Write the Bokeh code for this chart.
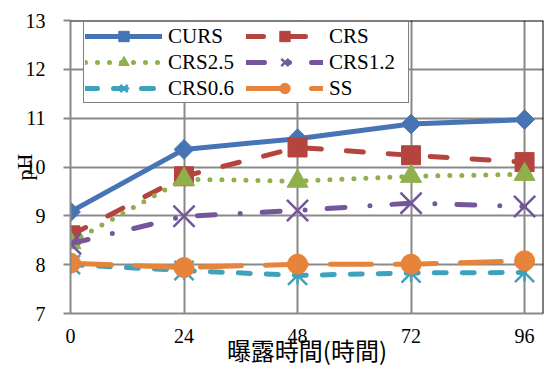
import math

from bokeh.embed import file_html
from bokeh.models import FixedTicker, Legend, LegendItem, Span
from bokeh.plotting import figure
from bokeh.resources import INLINE

# exposure time (hours) and measured pH for each specimen
hours = [0, 24, 48, 72, 96]
ph_curs = [9.08, 10.36, 10.58, 10.88, 10.97]
ph_crs = [8.60, 9.81, 10.40, 10.24, 10.10]
ph_crs25 = [8.45, 9.75, 9.71, 9.81, 9.85]
ph_crs12 = [8.43, 8.99, 9.11, 9.26, 9.19]
ph_crs06 = [8.00, 7.88, 7.78, 7.83, 7.84]
ph_ss = [8.03, 7.94, 8.01, 8.01, 8.08]

series_names = ["CURS", "CRS", "CRS2.5", "CRS1.2", "CRS0.6", "SS"]
x_ticks = [0, 24, 48, 72, 96]
y_ticks = [7, 8, 9, 10, 11, 12, 13]

x_label = "曝露時間(時間)"
y_label = "pH"

SERIF = "Liberation Serif"
GRID = "#898989"

p = figure(
    width=544, height=369,
    x_range=(0, 100), y_range=(7, 13),
    min_border_left=70, min_border_right=1,
    min_border_top=20, min_border_bottom=56,
    toolbar_location=None, output_backend="svg",
)
p.background_fill_color = "white"
p.border_fill_color = "white"
p.outline_line_color = None

# axes
for ax in (p.xaxis[0], p.yaxis[0]):
    ax.axis_line_color = GRID
    ax.axis_line_width = 2
    ax.major_tick_line_color = GRID
    ax.major_tick_line_width = 2
    ax.major_tick_in = 0
    ax.minor_tick_line_color = None
    ax.major_label_text_font = SERIF
    ax.major_label_text_font_size = "20px"
    ax.major_label_text_color = "black"
    ax.axis_label_text_color = "black"
    ax.axis_label_text_font_style = "normal"

p.xaxis.ticker = FixedTicker(ticks=x_ticks)
p.xaxis.major_tick_out = 0
p.xaxis.major_label_standoff = 15
p.xaxis.axis_label = x_label
p.xaxis.axis_label_text_font = "Noto Sans CJK JP"
p.xaxis.axis_label_text_font_size = "24px"
p.xaxis.axis_label_standoff = -14

p.yaxis.ticker = FixedTicker(ticks=y_ticks)
p.yaxis.major_tick_out = 7
p.yaxis.major_label_standoff = 18
p.yaxis.axis_label = y_label
p.yaxis.axis_label_text_font = SERIF
p.yaxis.axis_label_text_font_size = "22px"
p.yaxis.axis_label_standoff = -14

# grid
p.xgrid.ticker = FixedTicker(ticks=x_ticks)
p.ygrid.ticker = FixedTicker(ticks=y_ticks)
for g in (p.xgrid[0], p.ygrid[0]):
    g.grid_line_color = GRID
    g.grid_line_width = 2

# black border on top and right of the plot area
p.add_layout(Span(location=13, dimension="width", line_color="black", line_width=2))
p.add_layout(Span(location=100, dimension="height", line_color="black", line_width=2))

LW = 5
items = []

def add_series(name, ys, color, dash, markers):
    line = p.line(hours, ys, line_color=color, line_width=LW, line_dash=dash,
                  line_cap="round", line_join="round")
    rends = [line]
    for m in markers:
        kw = dict(marker=m["marker"], size=m["size"], angle=m.get("angle", 0))
        if m.get("filled", True):
            kw.update(fill_color=color, line_color=color, line_width=1)
        else:
            kw.update(fill_color=None, line_color=color, line_width=m.get("lw", 2.5))
        rends.append(p.scatter(hours, ys, **kw))
    items.append(LegendItem(label=name, renderers=rends))

add_series(series_names[0], ph_curs, "#4674B4", "solid",
           [dict(marker="square", size=14, angle=math.pi / 4)])
add_series(series_names[1], ph_crs, "#B5443F", "17 25",
           [dict(marker="square", size=19)])
add_series(series_names[2], ph_crs25, "#8FB04B", "0 12",
           [dict(marker="triangle", size=21)])
add_series(series_names[3], ph_crs12, "#74569A", "18 25 0 22",
           [dict(marker="x", size=30, filled=False, lw=2.5)])
add_series(series_names[4], ph_crs06, "#3FA2BD", "12 16",
           [dict(marker="x", size=27, filled=False, lw=2.5),
            dict(marker="dash", size=18, angle=math.pi / 2, filled=False, lw=2.5)])
add_series(series_names[5], ph_ss, "#E5843A", "41 24",
           [dict(marker="circle", size=20)])

legend = Legend(
    items=items, orientation="horizontal", ncols=2,
    location=(13, 210),
    border_line_color="black", border_line_width=1.5,
    background_fill_color="white", background_fill_alpha=1,
    label_text_font=SERIF, label_text_font_size="21px",
    label_text_color="black",
    glyph_width=77, glyph_height=26, label_height=20,
    label_standoff=6, label_width=78,
    spacing=0, padding=1, margin=0,
)
p.add_layout(legend)

open("out.html", "w").write(file_html(p, INLINE))
